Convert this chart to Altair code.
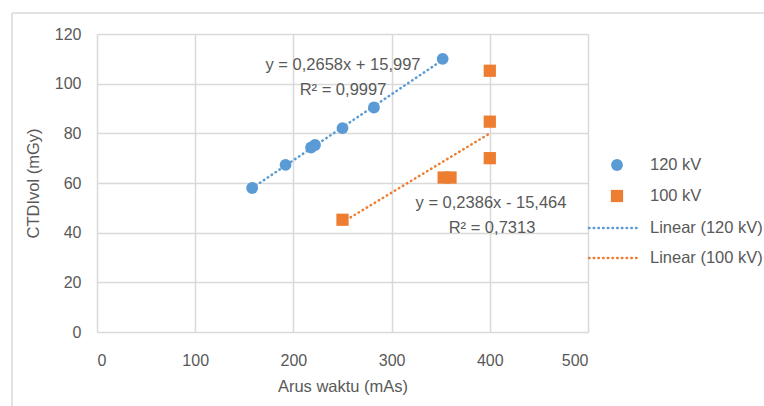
import altair as alt
import pandas as pd

# ---- data ----
x120 = [158, 192, 218, 222, 250, 282, 352]
y120 = [58.0, 67.3, 74.3, 75.3, 82.1, 90.4, 110.0]
x100 = [250, 353, 360, 400, 400, 400]
y100 = [45.2, 62.2, 62.2, 70.0, 84.7, 105.2]

# trend line end points (from the printed equations)
trend120_x = [158, 352]
trend120_y = [57.99, 109.56]
trend100_x = [250, 400]
trend100_y = [44.19, 79.98]

eq120 = ["y = 0,2658x + 15,997", "R² = 0,9997"]
eq100 = ["y = 0,2386x - 15,464", "R² = 0,7313"]
legend_labels = ["120 kV", "100 kV", "Linear (120 kV)", "Linear (100 kV)"]

x_ticks = [0, 100, 200, 300, 400, 500]
y_ticks = [0, 20, 40, 60, 80, 100, 120]

BLUE = "#5B9BD5"
ORANGE = "#ED7D31"
GRID = "#D9D9D9"
TXT = "#595959"
FONT = "Liberation Sans"

W, H = 491, 298

df120 = pd.DataFrame({"x": x120, "y": y120})
df100 = pd.DataFrame({"x": x100, "y": y100})
dt120 = pd.DataFrame({"x": trend120_x, "y": trend120_y})
dt100 = pd.DataFrame({"x": trend100_x, "y": trend100_y})

xs = alt.Scale(domain=[0, 500], nice=False, zero=False)
ys = alt.Scale(domain=[0, 120], nice=False, zero=False)

xenc = alt.X("x:Q", scale=xs, title="Arus waktu (mAs)",
             axis=alt.Axis(values=x_ticks, labelPadding=20, titlePadding=10))
yenc = alt.Y("y:Q", scale=ys, title="CTDIvol (mGy)",
             axis=alt.Axis(values=y_ticks, labelPadding=16, titlePadding=13))

base_axes = alt.Chart(df120).mark_point(opacity=0).encode(x=xenc, y=yenc)

trend_a = alt.Chart(dt120).mark_line(
    color=BLUE, strokeWidth=2.5, strokeDash=[0.5, 4.2], strokeCap="round"
).encode(x=alt.X("x:Q", scale=xs), y=alt.Y("y:Q", scale=ys))
trend_b = alt.Chart(dt100).mark_line(
    color=ORANGE, strokeWidth=2.5, strokeDash=[0.5, 4.2], strokeCap="round"
).encode(x=alt.X("x:Q", scale=xs), y=alt.Y("y:Q", scale=ys))

pts_a = alt.Chart(df120).mark_point(
    shape="circle", filled=True, color=BLUE, opacity=1, size=140
).encode(x=alt.X("x:Q", scale=xs), y=alt.Y("y:Q", scale=ys))
pts_b = alt.Chart(df100).mark_point(
    shape="square", filled=True, color=ORANGE, opacity=1, size=150
).encode(x=alt.X("x:Q", scale=xs), y=alt.Y("y:Q", scale=ys))

def label(text, px, py, align="center"):
    return alt.Chart(pd.DataFrame({"t": [text]})).mark_text(
        font=FONT, fontSize=16.5, color=TXT, align=align, baseline="middle"
    ).encode(text="t:N", x=alt.value(px), y=alt.value(py))

labels = [
    label(eq120[0], 246, 31),
    label(eq120[1], 246, 56),
    label(eq100[0], 394, 169),
    label(eq100[1], 395, 194),
]

# legend (manual)
leg_circle = alt.Chart(pd.DataFrame({"a": [0]})).mark_point(
    shape="circle", filled=True, color=BLUE, opacity=1, size=140
).encode(x=alt.value(520), y=alt.value(131))
leg_square = alt.Chart(pd.DataFrame({"a": [0]})).mark_point(
    shape="square", filled=True, color=ORANGE, opacity=1, size=150
).encode(x=alt.value(520), y=alt.value(162))
leg_line_a = alt.Chart(pd.DataFrame({"a": [0]})).mark_rule(
    color=BLUE, strokeWidth=2.5, strokeDash=[0.5, 4.2], strokeCap="round"
).encode(x=alt.value(492), x2=alt.value(543), y=alt.value(194))
leg_line_b = alt.Chart(pd.DataFrame({"a": [0]})).mark_rule(
    color=ORANGE, strokeWidth=2.5, strokeDash=[0.5, 4.2], strokeCap="round"
).encode(x=alt.value(492), x2=alt.value(543), y=alt.value(224))
leg_texts = [
    label(legend_labels[0], 553, 131, "left"),
    label(legend_labels[1], 553, 162, "left"),
    label(legend_labels[2], 553, 194, "left"),
    label(legend_labels[3], 553, 224, "left"),
]

# outer chart border (top and left edges)
border_top = alt.Chart(pd.DataFrame({"a": [0]})).mark_rule(
    color=GRID, strokeWidth=1.5
).encode(x=alt.value(-85), x2=alt.value(680), y=alt.value(-21))
border_left = alt.Chart(pd.DataFrame({"a": [0]})).mark_rule(
    color=GRID, strokeWidth=1.5
).encode(x=alt.value(-85), y=alt.value(-21), y2=alt.value(380))

chart = alt.layer(
    border_top, border_left, base_axes, trend_a, trend_b, pts_a, pts_b,
    *labels, leg_circle, leg_square, leg_line_a, leg_line_b, *leg_texts
).properties(
    width=W, height=H,
    background="white",
    autosize=alt.AutoSizeParams(type="none"),
    padding={"left": 97, "top": 34, "right": 764 - 97 - W, "bottom": 406 - 34 - H},
).configure_view(
    stroke=None
).configure_axis(
    grid=True, gridColor=GRID, gridWidth=1.5, domain=False, ticks=False,
    labelFont=FONT, labelFontSize=16, labelColor=TXT,
    titleFont=FONT, titleFontSize=16.5, titleColor=TXT, titleFontWeight="normal",
)

chart.save("out.html", embed_options={"renderer": "svg", "actions": False})
